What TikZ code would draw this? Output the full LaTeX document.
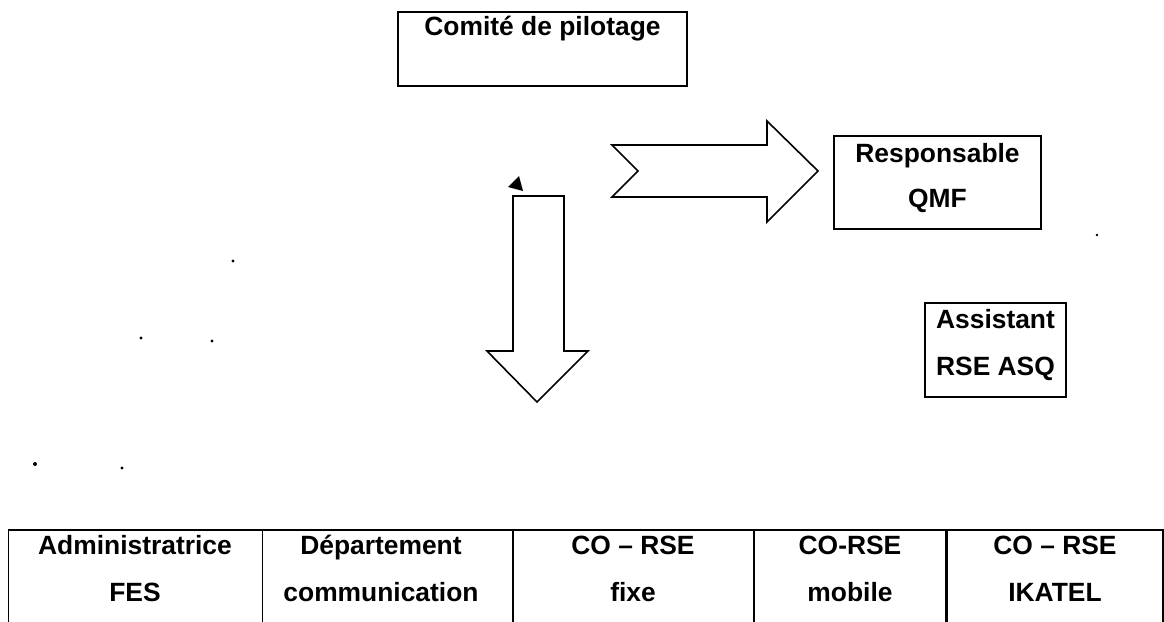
\documentclass[tikz,border=0pt]{standalone}
\usepackage{fontspec}
\setmainfont{Liberation Sans}
\begin{document}
\begin{tikzpicture}[x=0.5pt,y=-0.5pt,
  box/.style={draw,line width=0.75pt,inner sep=0pt},
  txt/.style={font=\bfseries\fontsize{13.2}{15}\selectfont,anchor=base,inner sep=0pt},
  shape arrow/.style={draw,line width=0.8pt,line join=miter,fill=white},
  speck/.style={fill=black,draw=none}]
\useasboundingbox (0,0) rectangle (1164,622);

% boxes
\node[box,minimum width=144.5pt,minimum height=37pt] (comite) at (542.5,49) {};
\node[box,minimum width=103.5pt,minimum height=46.5pt] (resp) at (937.5,182.5) {};
\node[box,minimum width=70.5pt,minimum height=47pt] (assist) at (995.5,350) {};

% bottom row cells
\node[box,minimum width=127pt,minimum height=47pt] (c1) at (135.5,577) {};
\node[box,minimum width=125.5pt,minimum height=47pt] (c2) at (388,577) {};
\node[box,minimum width=120.5pt,minimum height=47pt] (c3) at (633.5,577) {};
\node[box,minimum width=96.5pt,minimum height=47pt] (c4) at (850.5,577) {};
\node[box,minimum width=108.5pt,minimum height=47pt] (c5) at (1054.5,577) {};

% texts
\node[txt] (tcomite) at (542.5,35) {Comité de pilotage};
\node[txt] (tresp1) at (937.5,162) {Responsable};
\node[txt] (tresp2) at (937.5,207) {QMF};
\node[txt] (tass1) at (995.5,328) {Assistant};
\node[txt] (tass2) at (995.5,375) {RSE ASQ};
\node[txt] (t11) at (135,554) {Administratrice};
\node[txt] (t12) at (135,601) {FES};
\node[txt] (t21) at (381,554) {Département};
\node[txt] (t22) at (381,601) {communication};
\node[txt] (t31) at (633,554) {CO – RSE};
\node[txt] (t32) at (633,601) {fixe};
\node[txt] (t41) at (850,554) {CO-RSE};
\node[txt] (t42) at (850,601) {mobile};
\node[txt] (t51) at (1055,554) {CO – RSE};
\node[txt] (t52) at (1055,601) {IKATEL};

% block arrows
\draw[shape arrow] (513,196) -- (564,196) -- (564,351) -- (588,351) -- (537,402)
  -- (487,351) -- (513,351) -- cycle;
\draw[shape arrow] (612,145) -- (767,145) -- (767,121) -- (818,171) -- (767,222)
  -- (767,197) -- (612,197) -- (638,171) -- cycle;

% small black triangle
\fill (519,176) -- (508,187) -- (523,191) -- cycle;

% specks
\fill[speck] (233,261) circle (1.6);
\fill[speck] (141,338) circle (1.6);
\fill[speck] (212,341) circle (1.6);
\fill[speck] (35,464) circle (2);
\fill[speck] (122,468) circle (1.6);
\fill[speck] (1097,235) circle (1.3);
\end{tikzpicture}
\end{document}
